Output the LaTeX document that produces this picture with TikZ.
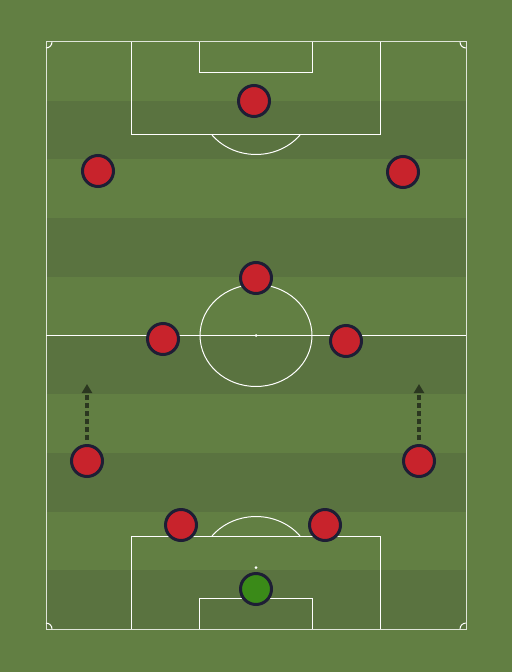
\documentclass[tikz,border=0pt]{standalone}
\usetikzlibrary{arrows.meta,shadows}

\definecolor{prato}{HTML}{627F43}
\definecolor{pratoscuro}{HTML}{5A7340}
\definecolor{maglia}{HTML}{C8232C}
\definecolor{guanti}{HTML}{3A8A18}
\definecolor{bordo}{HTML}{1E1E35}
\definecolor{freccia}{HTML}{2B3720}

\tikzset{
  linea/.style={draw=white, line width=0.02cm},
  giocatore/.style={circle, draw=bordo, line width=0.06cm, fill=maglia,
    minimum size=0.62cm, inner sep=0pt,
    drop shadow={opacity=0.2, shadow xshift=0cm, shadow yshift=-0.03cm}},
  portiere/.style={giocatore, fill=guanti},
  corsa/.style={draw=freccia, line width=0.075cm,
    dash pattern=on 0.1cm off 0.06cm,
    -{Triangle[length=0.18cm, width=0.2cm]}}
}

\begin{document}
\begin{tikzpicture}[x=0.02cm, y=-0.02cm]
  \useasboundingbox (0,0) rectangle (512,672);

  % prato
  \fill[prato] (0,0) rectangle (512,672);
  \foreach \k in {1,3,5,7,9}
    \fill[pratoscuro] (46,42+58.7*\k) rectangle (466,42+58.7*\k+58.7);

  % linee del campo
  \draw[linea, draw opacity=0.8] (46,42) rectangle (466,629);
  \draw[linea] (46,335.5) -- (466,335.5);
  \draw[linea] (256,335.5) ellipse [x radius=1.12cm, y radius=1.02cm];
  \fill[white] (256,335.5) circle (0.03cm);

  % area in alto
  \draw[linea] (131,42) -- (131,135) -- (380,135) -- (380,42);
  \draw[linea] (199,42) -- (199,73) -- (312,73) -- (312,42);
  \fill[white] (256,103.5) circle (0.03cm);
  \draw[linea] (256,103.5) ++(-38:1.12cm and 1.02cm)
    arc[start angle=-38, end angle=-142, x radius=1.12cm, y radius=1.02cm];

  % area in basso
  \draw[linea] (131,629) -- (131,536) -- (380,536) -- (380,629);
  \draw[linea] (199,629) -- (199,598) -- (312,598) -- (312,629);
  \fill[white] (256,567.5) circle (0.03cm);
  \draw[linea] (256,567.5) ++(38:1.12cm and 1.02cm)
    arc[start angle=38, end angle=142, x radius=1.12cm, y radius=1.02cm];

  % bandierine
  \draw[linea] (46,42) ++(0:0.12cm) arc[start angle=0, end angle=-90, radius=0.12cm];
  \draw[linea] (466,42) ++(180:0.12cm) arc[start angle=180, end angle=270, radius=0.12cm];
  \draw[linea] (46,629) ++(0:0.12cm) arc[start angle=0, end angle=90, radius=0.12cm];
  \draw[linea] (466,629) ++(180:0.12cm) arc[start angle=180, end angle=90, radius=0.12cm];

  % giocatori
  \node[portiere]  (por) at (256,589) {};
  \node[giocatore] (dsx) at (181,525) {};
  \node[giocatore] (ddx) at (325,525) {};
  \node[giocatore] (tsx) at (87,461) {};
  \node[giocatore] (tdx) at (419,461) {};
  \node[giocatore] (csx) at (163,339) {};
  \node[giocatore] (cdx) at (346,341) {};
  \node[giocatore] (trq) at (256,278) {};
  \node[giocatore] (asx) at (98,171) {};
  \node[giocatore] (adx) at (403,172) {};
  \node[giocatore] (pc)  at (254,101) {};

  % sovrapposizioni
  \coordinate (msx) at (87,384);
  \coordinate (mdx) at (419,384);
  \draw[corsa, shorten <=0.08cm] (tsx.north) -- (msx);
  \draw[corsa, shorten <=0.08cm] (tdx.north) -- (mdx);
\end{tikzpicture}
\end{document}
